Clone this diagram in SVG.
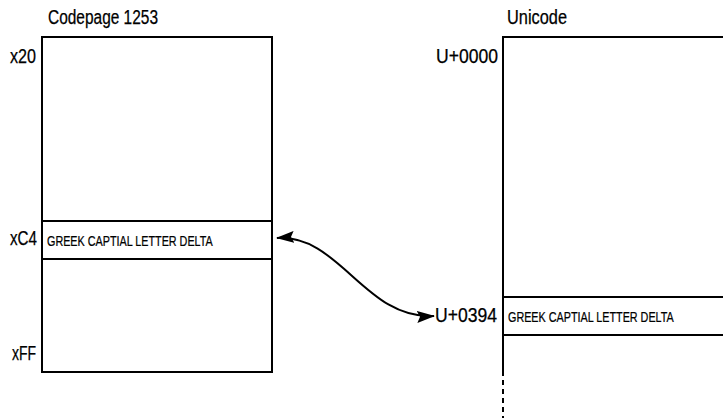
<svg xmlns="http://www.w3.org/2000/svg" width="723" height="418" viewBox="0 0 723 418">
<style>
text{font-family:"Liberation Sans",Arial,sans-serif;fill:#000;stroke:#000;stroke-width:0.25}
.t{font-size:20px}
.s{font-size:15px}
.box{fill:#fff;stroke:#000;stroke-width:2}
.ln{stroke:#000;stroke-width:2;fill:none}
</style>
<defs>
<marker id="ah" viewBox="0 0 18 12" refX="17" refY="6" markerWidth="18" markerHeight="12" markerUnits="userSpaceOnUse" orient="auto-start-reverse">
<path d="M0,0 L18,6 L0,12 L3,6 Z" fill="#000"/>
</marker>
</defs>
<g id="codepage">
<rect class="box" x="42" y="37" width="230" height="335"/>
<line class="ln" x1="42" y1="221" x2="272" y2="221"/>
<line class="ln" x1="42" y1="259" x2="272" y2="259"/>
<text class="t" x="48" y="24" textLength="110" lengthAdjust="spacingAndGlyphs">Codepage 1253</text>
<text class="t" x="10" y="63" textLength="26" lengthAdjust="spacingAndGlyphs">x20</text>
<text class="t" x="10" y="245" textLength="27" lengthAdjust="spacingAndGlyphs">xC4</text>
<text class="t" x="12" y="360" textLength="24" lengthAdjust="spacingAndGlyphs">xFF</text>
<text class="s" transform="translate(47,246) scale(0.72,1)" x="0" y="0">GREEK CAPTIAL LETTER DELTA</text>
</g>
<g id="unicode">
<path class="ln" d="M723,37 L503,37 L503,371"/>
<line class="ln" x1="503" y1="371" x2="503" y2="418" stroke-dasharray="5,4"/>
<line class="ln" x1="503" y1="297" x2="723" y2="297"/>
<line class="ln" x1="503" y1="335" x2="723" y2="335"/>
<text class="t" x="507" y="24" textLength="60" lengthAdjust="spacingAndGlyphs">Unicode</text>
<text class="t" x="436" y="63" textLength="62" lengthAdjust="spacingAndGlyphs">U+0000</text>
<text class="t" x="435" y="322" textLength="62" lengthAdjust="spacingAndGlyphs">U+0394</text>
<text class="s" transform="translate(508,322) scale(0.72,1)" x="0" y="0">GREEK CAPTIAL LETTER DELTA</text>
</g>
<g id="connectors">
<path class="ln" d="M277,238 C340,234 365,320 434,316" marker-start="url(#ah)" marker-end="url(#ah)"/>
</g>
</svg>
